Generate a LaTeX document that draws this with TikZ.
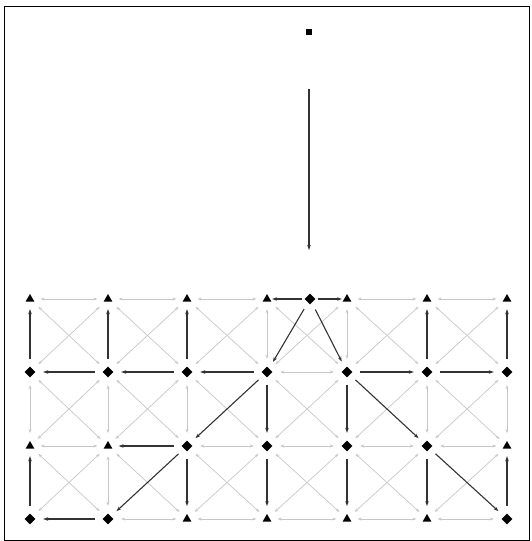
\documentclass[tikz,border=0pt]{standalone}
\usetikzlibrary{shapes.geometric,arrows.meta}
\begin{document}
\begin{tikzpicture}[x=1pt,y=-1pt,
 dia/.style={diamond,fill=black,inner sep=0pt,minimum size=11pt},
 tri/.style={regular polygon,regular polygon sides=3,fill=black,inner sep=0pt,minimum size=10pt},
 sq/.style={rectangle,fill=black,inner sep=0pt,minimum size=6pt},
 light/.style={draw=black!22,line width=0.7pt,{Stealth[length=4pt,width=3pt]}-{Stealth[length=4pt,width=3pt]},shorten <=7.5pt,shorten >=7.5pt},
 dark/.style={draw=black!80,line width=1.1pt,-{Stealth[length=5pt,width=3.5pt]},shorten <=7.5pt,shorten >=7.5pt},
 darkshort/.style={dark,shorten <=2pt,shorten >=2pt},
 frame/.style={draw=black,line width=1pt}]
\useasboundingbox (0,0) rectangle (531,541);
\draw[frame] (4,6) rectangle (529,540);
% grid nodes
\foreach \tp/\xx [count=\i from 0] in {tri/30,tri/108,tri/187,tri/267,tri/347,tri/427,tri/507}
  \node[\tp] (n0\i) at (\xx,299) {};
\foreach \tp/\xx [count=\i from 0] in {dia/30,dia/108,dia/187,dia/267,dia/347,dia/427,dia/507}
  \node[\tp] (n1\i) at (\xx,372) {};
\foreach \tp/\xx [count=\i from 0] in {tri/30,tri/108,dia/187,dia/267,dia/347,dia/427,tri/507}
  \node[\tp] (n2\i) at (\xx,446) {};
\foreach \tp/\xx [count=\i from 0] in {dia/30,dia/108,tri/187,tri/267,tri/347,tri/427,dia/507}
  \node[\tp] (n3\i) at (\xx,519) {};
\node[dia] (nD) at (310,299) {};
% top part
\node[sq] (top) at (309,32) {};
\coordinate (la) at (309,89);
\coordinate (lb) at (309,250);
\draw[draw=black!80,line width=1.1pt,-{Stealth[length=5pt,width=3.5pt]}] (la) -- (lb);
% light edges (those under dark arrows left out)
\foreach \a/\b in {
  00/01,01/02,02/03,04/05,05/06,
  13/14,
  20/21,22/23,23/24,24/25,25/26,
  31/32,32/33,33/34,34/35,35/36,
  03/13,04/14,
  10/20,11/21,12/22,15/25,16/26,
  21/31,
  00/11,01/10,01/12,02/11,02/13,03/12,03/14,04/13,04/15,05/14,05/16,06/15,
  10/21,11/20,11/22,12/21,12/23,14/23,13/24,15/24,15/26,16/25,
  20/31,21/30,21/32,22/33,23/32,23/34,24/33,24/35,25/34,26/35}
  \draw[light] (n\a) -- (n\b);
% dark arrows
\draw[darkshort] (nD) -- (n03);
\draw[darkshort] (nD) -- (n04);
\foreach \a/\b in {10/00,11/01,12/02,15/05,16/06,D/13,D/14,
  11/10,12/11,13/12,14/15,15/16,13/22,13/23,14/24,14/25,22/21,
  30/20,31/30,22/31,22/32,23/33,24/34,25/35,25/36,36/26}
  \draw[dark] (n\a) -- (n\b);
\end{tikzpicture}
\end{document}
